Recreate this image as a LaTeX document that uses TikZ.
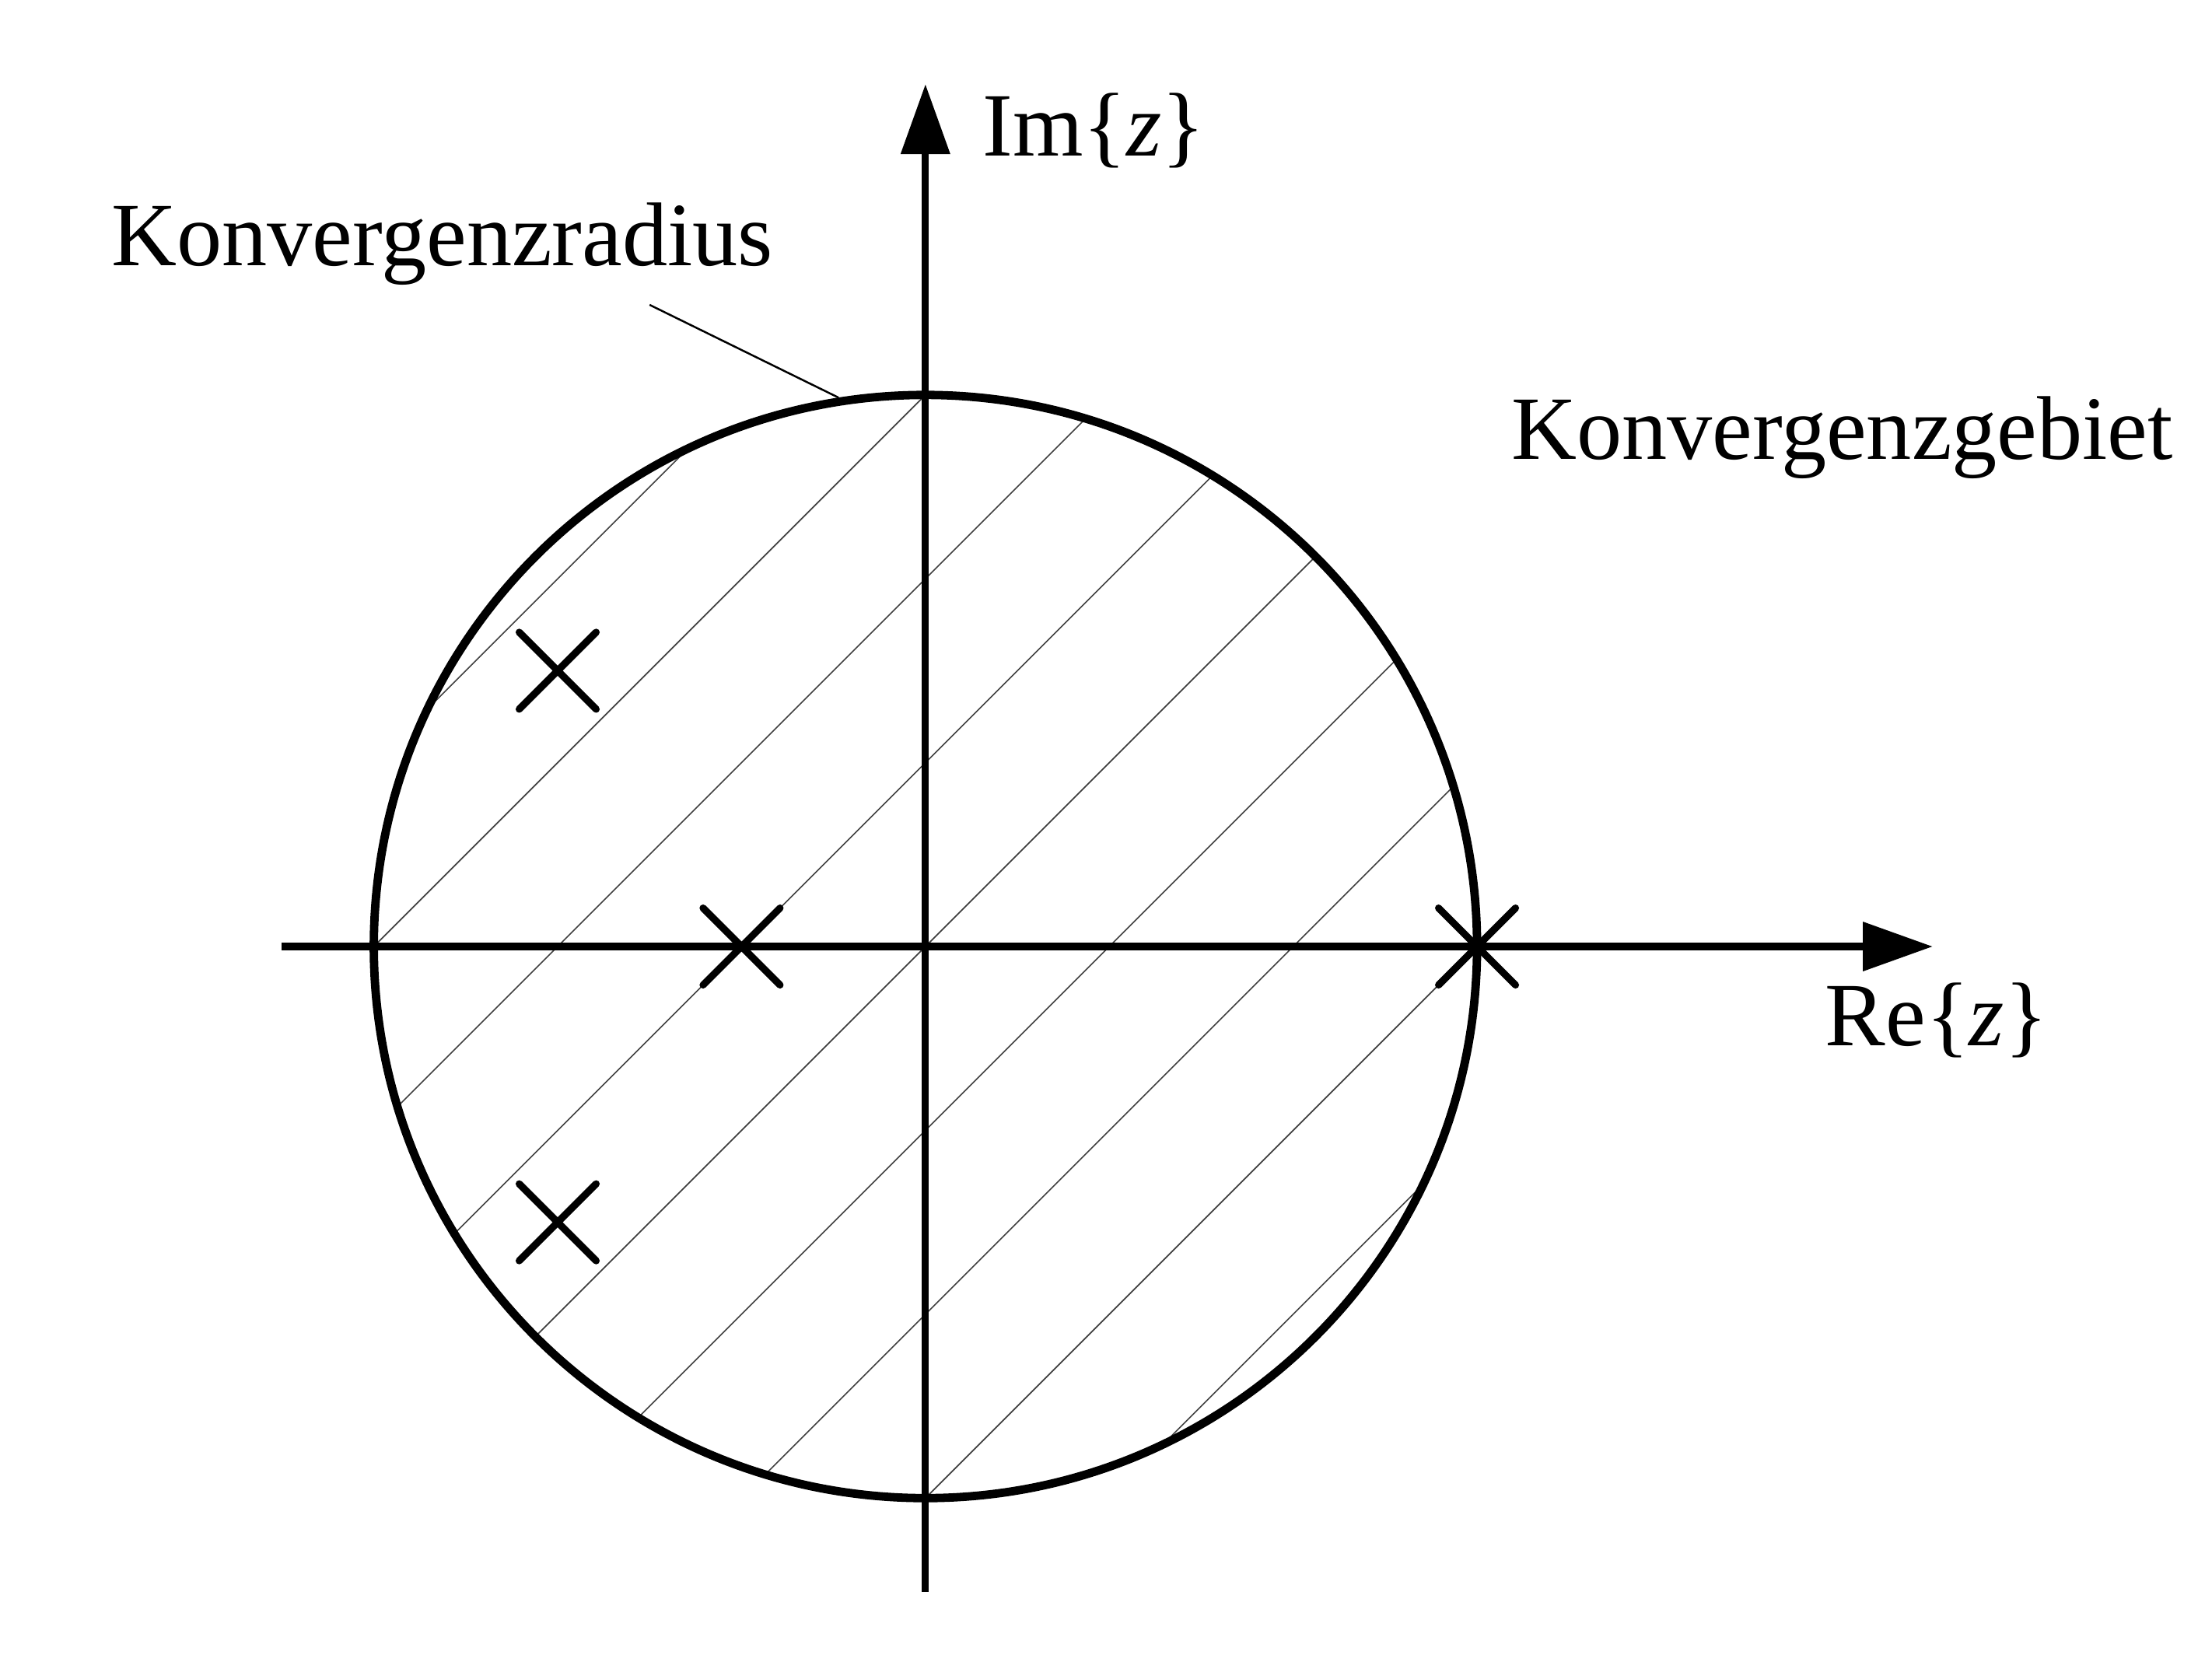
\documentclass[tikz,border=0pt]{standalone}
\usepackage{fontspec}
\setmainfont{Liberation Serif}
\usetikzlibrary{arrows.meta,positioning,shapes.misc,calc}
\tikzset{
  zpaxis/.style={-{Triangle[length=3.8mm,width=2.6mm]},line width=1.1pt},
  zpcircle/.style={draw,circle,line width=1.3pt,minimum size=6cm,inner sep=0pt},
  zphatch/.style={line width=0.2pt,black!75},
  zplead/.style={line width=0.3pt},
  zppole/.style={cross out,draw,line width=1.1pt,line cap=round,minimum size=3.8mm,inner sep=0pt},
  zplabel/.style={inner sep=0pt,font=\fontsize{14}{16}\selectfont}
}

\begin{document}
\begin{tikzpicture}
\useasboundingbox (-5.033,-3.967) rectangle (6.997,5.148);
\coordinate (O) at (0,0);
% hatching of the region
\begin{scope}
  \clip (O) circle (3);
  \foreach \k in {-4,...,4} \draw[zphatch] (-4,-4+\k) -- (4,4+\k);
\end{scope}
\node[zpcircle] (roc) at (O) {};
% axes
\coordinate (xl) at (-3.5,0);
\coordinate (xr) at (5.478,0);
\coordinate (yb) at (0,-3.51);
\coordinate (yt) at (0,4.69);
\draw[zpaxis] (xl) -- (xr);
\draw[zpaxis] (yb) -- (yt);
% poles
\node[zppole] (p1) at (-2,1.5) {};
\node[zppole] (p2) at (-1,0) {};
\node[zppole] (p3) at (3,0) {};
\node[zppole] (p4) at (-2,-1.5) {};
% labels
\node[zplabel,anchor=base west] (imlbl) at (0.304,4.30) {Im\{\textit{z}\}};
\node[zplabel,anchor=base west] (relbl) at (4.887,-0.541) {Re\{\textit{z}\}};
\node[zplabel,anchor=base west] (radlbl) at (-4.433,3.703) {Konvergenzradius};
\node[zplabel,anchor=base west] (roclbl) at (3.18,2.649) {Konvergenzgebiet};
\coordinate (radlead) at (-1.5,3.49);
\draw[zplead] (radlead) -- (roc.99.5);
\end{tikzpicture}
\end{document}
